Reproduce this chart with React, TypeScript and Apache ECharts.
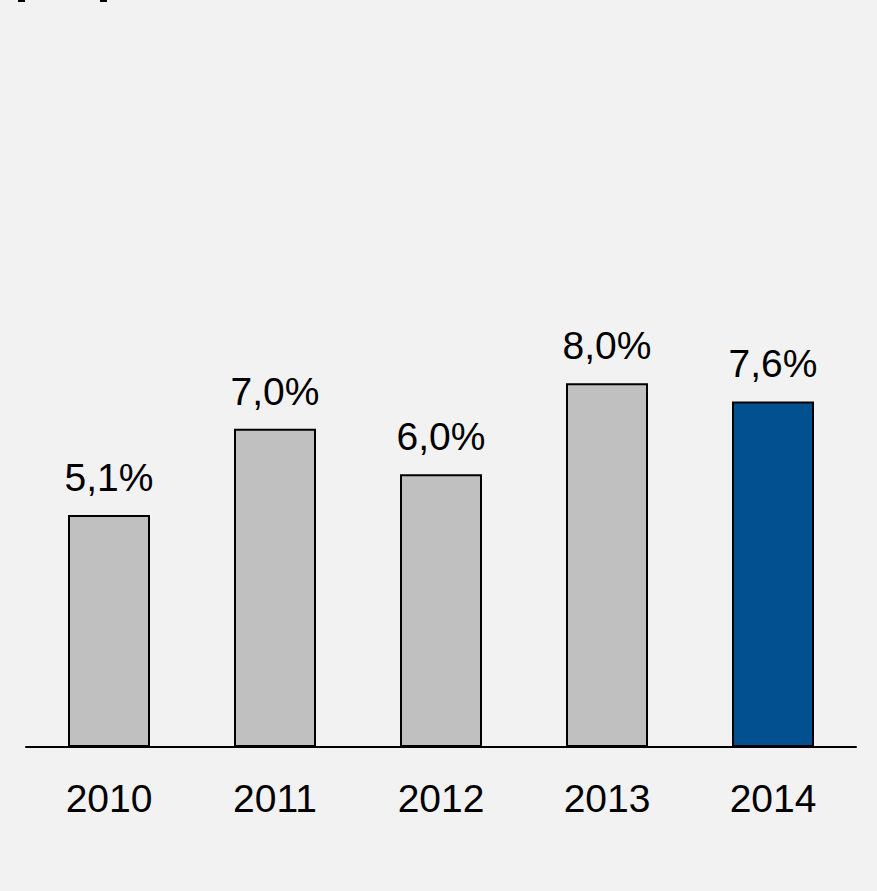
import React, { useEffect, useRef } from "react";
import * as echarts from "echarts";

const categories = ["2010", "2011", "2012", "2013", "2014"];
const values = [5.1, 7.0, 6.0, 8.0, 7.6];
const valueLabels = ["5,1%", "7,0%", "6,0%", "8,0%", "7,6%"];

const GRAY = "#c0c0c0";
const BLUE = "#02508f";
const FONT = "'Liberation Sans', Arial, sans-serif";

export default function App() {
  const ref = useRef<HTMLDivElement>(null);
  useEffect(() => {
    if (!ref.current) return;
    const chart = echarts.init(ref.current, undefined, { renderer: "svg" });
    chart.setOption({
      animation: false,
      backgroundColor: "#f2f2f2",
      grid: { left: 26, right: 21, top: 65, bottom: 144, containLabel: false },
      xAxis: {
        type: "category",
        data: categories,
        axisLine: { show: true, lineStyle: { color: "#000", width: 2 } },
        axisTick: { show: false },
        axisLabel: { color: "#000", fontSize: 39, fontFamily: FONT, margin: 32 },
      },
      yAxis: {
        type: "value",
        min: 0,
        max: 15,
        show: false,
        splitLine: { show: false },
      },
      graphic: [
        { type: "rect", shape: { x: 18, y: 0, width: 7, height: 2 }, style: { fill: "#000" } },
        { type: "rect", shape: { x: 100, y: 0, width: 7, height: 2 }, style: { fill: "#000" } },
      ],
      series: [
        {
          type: "bar",
          barWidth: 82,
          data: values.map((v, i) => ({
            value: v,
            itemStyle: { color: i === values.length - 1 ? BLUE : GRAY },
          })),
          itemStyle: { borderColor: "#000", borderWidth: 2 },
          label: {
            show: true,
            position: "top",
            distance: 18,
            color: "#000",
            fontSize: 39,
            fontFamily: FONT,
            formatter: (p: any) => valueLabels[p.dataIndex],
          },
        },
      ],
    });
    return () => chart.dispose();
  }, []);
  return (
    <div
      ref={ref}
      style={{ position: "fixed", left: 0, top: 0, width: 877, height: 891 }}
    />
  );
}
